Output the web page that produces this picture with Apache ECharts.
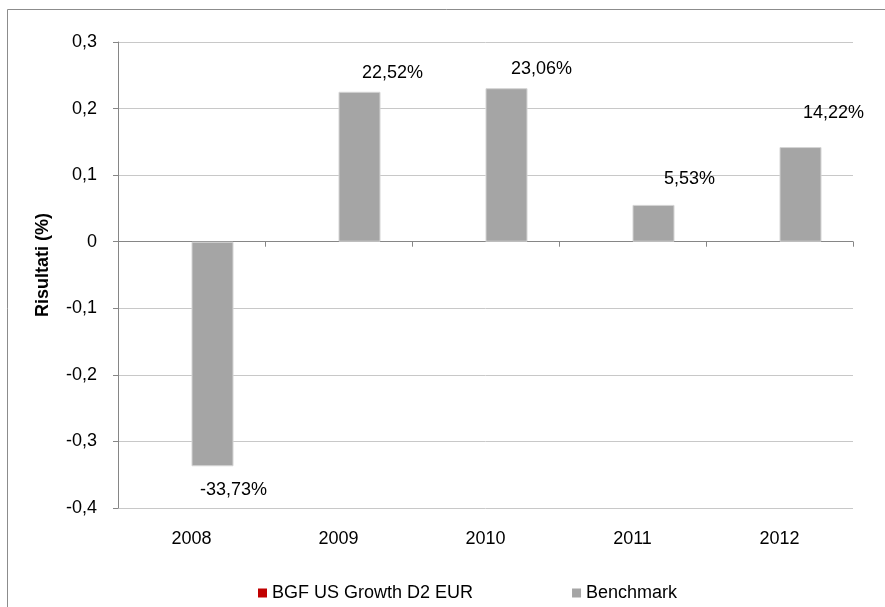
<!DOCTYPE html>
<html>
<head>
<meta charset="utf-8">
<script src="https://cdn.jsdelivr.net/npm/echarts@6/dist/echarts.min.js"></script>
<style>
  html, body { margin: 0; padding: 0; background: #fff; }
  #main { width: 885px; height: 607px; }
</style>
</head>
<body>
<div id="main"></div>
<script>
// dati
var anni = ['2008', '2009', '2010', '2011', '2012'];
var fondo = [null, null, null, null, null];
var benchmark = [-0.3373, 0.2252, 0.2306, 0.0553, 0.1422];
var nomiSerie = ['BGF US Growth D2 EUR', 'Benchmark'];

// spostamento etichette (come nel grafico originale)
var spostamenti = [[21, 10], [33, -5], [35, -5], [36, -12], [33, -20]];

var fmtAsse = function (v) {
    if (Math.abs(v) < 1e-9) return '0';
    return v.toFixed(1).replace('.', ',');
};
var fmtPerc = function (v) {
    return (v * 100).toFixed(2).replace('.', ',') + '%';
};

var datiBench = [];
for (var i = 0; i < benchmark.length; i++) {
    datiBench.push({
        value: benchmark[i],
        label: {
            position: benchmark[i] < 0 ? 'bottom' : 'top',
            offset: spostamenti[i]
        }
    });
}

var testo = { fontFamily: 'Liberation Sans, Arial, sans-serif', fontSize: 18, color: '#000' };

var option = {
    animation: false,
    textStyle: { fontFamily: 'Liberation Sans, Arial, sans-serif' },
    graphic: [{
        type: 'rect',
        shape: { x: 7.5, y: 9.5, width: 1000, height: 1000 },
        style: { fill: 'none', stroke: '#8c8c8c', lineWidth: 1 },
        silent: true
    }],
    grid: { left: 118, right: 32, top: 42, bottom: 99 },
    legend: {
        left: 253,
        top: 579,
        itemWidth: 9,
        itemHeight: 9,
        itemGap: 99,
        icon: 'rect',
        itemStyle: { borderWidth: 0 },
        textStyle: testo,
        data: nomiSerie
    },
    xAxis: [{
        type: 'category',
        data: anni,
        axisLine: { onZero: true, lineStyle: { color: '#868686', width: 1 } },
        axisTick: { show: true, length: 5, lineStyle: { color: '#868686' } },
        axisLabel: { show: false }
    }, {
        type: 'category',
        data: anni,
        position: 'bottom',
        axisLine: { show: false, onZero: false },
        axisTick: { show: false },
        axisLabel: Object.assign({ margin: 22 }, testo)
    }],
    yAxis: {
        type: 'value',
        min: -0.4,
        max: 0.3,
        interval: 0.1,
        name: 'Risultati (%)',
        nameLocation: 'middle',
        nameGap: 66,
        nameTextStyle: {
            fontFamily: 'Liberation Sans, Arial, sans-serif', fontSize: 18, fontWeight: 'bold', color: '#000',
            padding: [0, 0, 0, 20]
        },
        axisLine: { show: true, lineStyle: { color: '#868686' } },
        axisTick: { show: true, length: 5, lineStyle: { color: '#868686' } },
        axisLabel: Object.assign({ margin: 21, formatter: fmtAsse }, testo),
        splitLine: { lineStyle: { color: '#c8c8c8', width: 1 } }
    },
    series: [{
        name: nomiSerie[0],
        type: 'bar',
        data: fondo,
        barWidth: 42,
        barGap: 0,
        itemStyle: { color: '#c00000' }
    }, {
        name: nomiSerie[1],
        type: 'bar',
        data: datiBench,
        barWidth: 42,
        barGap: 0,
        itemStyle: { color: '#a5a5a5', borderColor: '#d4d4d4', borderWidth: 1 },
        label: {
            show: true,
            distance: 5,
            formatter: function (p) { return fmtPerc(p.value); },
            fontFamily: 'Liberation Sans, Arial, sans-serif',
            fontSize: 18,
            color: '#000'
        }
    }]
};

var chart = echarts.init(document.getElementById('main'));
chart.setOption(option);
</script>
</body>
</html>
